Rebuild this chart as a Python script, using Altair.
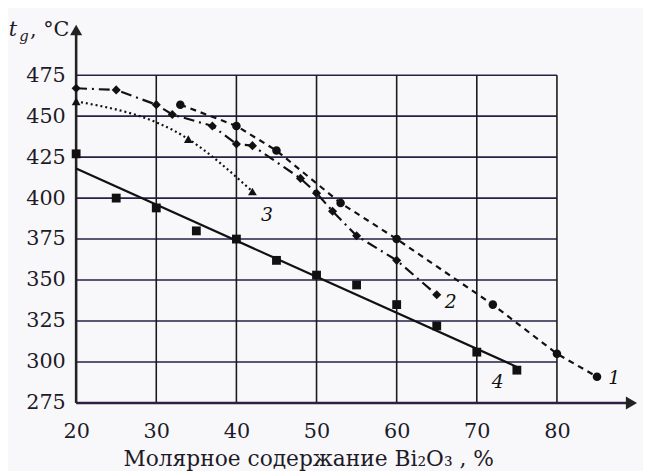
import altair as alt
import pandas as pd

# ---- data ----
# curve 1 (dashed, circles)
s1_x = [33, 40, 45, 53, 60, 72, 80, 85]
s1_y = [457, 444, 429, 397, 375, 335, 305, 291]
# curve 2 (dash-dot, diamonds)
s2_x = [20, 25, 30, 32, 37, 40, 42, 48, 50, 52, 55, 60, 65]
s2_y = [467, 466, 457, 451, 444, 433, 432, 412, 403, 392, 377, 362, 341]
# curve 3 (dotted, triangles)
s3_x = [20, 34, 42]
s3_y = [459, 436, 404]
# curve 4 (squares + straight fitted line)
s4_x = [20, 25, 30, 35, 40, 45, 50, 55, 60, 65, 70, 75]
s4_y = [427, 400, 394, 380, 375, 362, 353, 347, 335, 322, 306, 295]
fit4_x = [20, 75]
fit4_y = [418, 297]

# curve number labels
lab_text = ["1", "2", "3", "4"]
lab_x = [86.4, 66.0, 43.8, 72.6]
lab_y = [290, 336.5, 389.5, 288]
lab_align = ["left", "left", "center", "center"]

x_ticks = [20, 30, 40, 50, 60, 70, 80]
y_ticks = [275, 300, 325, 350, 375, 400, 425, 450, 475]
x_grid = [30, 40, 50, 60, 70, 80]
y_grid = [300, 325, 350, 375, 400, 425, 450, 475]
x_title = "Молярное содержание Bi\u2082O\u2083 , %"

FONT = "DejaVu Serif"
INK = "#1e1a28"

X_SCALE = alt.Scale(domain=[20, 90], nice=False, zero=False)
Y_SCALE = alt.Scale(domain=[275, 507], nice=False, zero=False)
X_AXIS = alt.Axis(values=x_ticks, domain=False, ticks=False, grid=False, labelFlush=False,
                  labelFont=FONT, labelFontSize=21, labelPadding=18, labelColor=INK,
                  title=x_title, titleFont=FONT, titleFontSize=22, titleFontWeight="normal",
                  titleColor=INK, titleX=235, titleY=63, titleBaseline="alphabetic")
Y_AXIS = alt.Axis(values=y_ticks, domain=False, ticks=False, grid=False, labelFlush=False,
                  labelFont=FONT, labelFontSize=21, labelPadding=11, labelColor=INK,
                  labelBaseline="middle", title=None)


def X(f):
    return alt.X(f, type="quantitative", scale=X_SCALE, axis=X_AXIS)


def Y(f):
    return alt.Y(f, type="quantitative", scale=Y_SCALE, axis=Y_AXIS)


hgrid = pd.DataFrame({"y": y_grid, "x0": [20] * len(y_grid), "x1": [80] * len(y_grid)})
vgrid = pd.DataFrame({"x": x_grid, "y0": [275] * len(x_grid), "y1": [475] * len(x_grid)})

h_rules = alt.Chart(hgrid).mark_rule(color="#2a1f45", strokeWidth=1.6).encode(
    x=X("x0"), x2="x1", y=Y("y"))
v_rules = alt.Chart(vgrid).mark_rule(color="#1a1a1a", strokeWidth=1.6).encode(
    x=X("x"), y=Y("y0"), y2="y1")

# axes with arrows
xaxis_df = pd.DataFrame({"x0": [20], "x1": [89], "y": [275]})
yaxis_df = pd.DataFrame({"x": [20], "y0": [275], "y1": [503]})
x_axis_line = alt.Chart(xaxis_df).mark_rule(color="#2a1f45", strokeWidth=2.6).encode(
    x=X("x0"), x2="x1", y=Y("y"))
y_axis_line = alt.Chart(yaxis_df).mark_rule(color="#222", strokeWidth=2.6).encode(
    x=X("x"), y=Y("y0"), y2="y1")
arrow_r = alt.Chart(pd.DataFrame({"x": [89.3], "y": [275]})).mark_point(
    shape="triangle-right", filled=True, size=170, color="#222", opacity=1).encode(
    x=X("x"), y=Y("y"))
arrow_u = alt.Chart(pd.DataFrame({"x": [20], "y": [502.5]})).mark_point(
    shape="triangle-up", filled=True, size=150, color="#222", opacity=1).encode(
    x=X("x"), y=Y("y"))

d1 = pd.DataFrame({"x": s1_x, "y": s1_y})
d2 = pd.DataFrame({"x": s2_x, "y": s2_y})
d3 = pd.DataFrame({"x": s3_x, "y": s3_y})
d4 = pd.DataFrame({"x": s4_x, "y": s4_y})
f4 = pd.DataFrame({"x": fit4_x, "y": fit4_y})

line1 = alt.Chart(d1).mark_line(color="#111", strokeWidth=2.2, strokeDash=[6, 5]).encode(
    x=X("x"), y=Y("y"))
pts1 = alt.Chart(d1).mark_point(shape="circle", filled=True, size=75, color="#111",
                                opacity=1).encode(x=X("x"), y=Y("y"))
line2 = alt.Chart(d2).mark_line(color="#111", strokeWidth=2.2,
                                strokeDash=[11, 5, 2, 5]).encode(x=X("x"), y=Y("y"))
pts2 = alt.Chart(d2).mark_point(shape="diamond", filled=True, size=85, color="#111",
                                opacity=1).encode(x=X("x"), y=Y("y"))
line3 = alt.Chart(d3).mark_line(color="#111", strokeWidth=2.2, strokeDash=[2, 3],
                                interpolate="monotone").encode(x=X("x"), y=Y("y"))
pts3 = alt.Chart(d3).mark_point(shape="triangle-up", filled=True, size=80, color="#111",
                                opacity=1).encode(x=X("x"), y=Y("y"))
line4 = alt.Chart(f4).mark_line(color="#111", strokeWidth=2.2).encode(x=X("x"), y=Y("y"))
pts4 = alt.Chart(d4).mark_point(shape="square", filled=True, size=80, color="#111",
                                opacity=1).encode(x=X("x"), y=Y("y"))

labels = []
for t, lx, ly, al in zip(lab_text, lab_x, lab_y, lab_align):
    labels.append(alt.Chart(pd.DataFrame({"x": [lx], "y": [ly], "t": [t]})).mark_text(
        font=FONT, fontSize=19, fontStyle="italic", align=al, baseline="middle",
        color="#111").encode(x=X("x"), y=Y("y"), text="t:N"))

# y-axis title "t_g, °C"
yt_parts = ["t", "g", ", \u00b0C"]
yt_x = [11.6, 12.9, 14.25]
yt_y = [499.1, 496.0, 499.1]
yt_size = [21, 15, 21]
yt_style = ["italic", "italic", "normal"]
ytitle = []
for t, lx, ly, fs, st in zip(yt_parts, yt_x, yt_y, yt_size, yt_style):
    ytitle.append(alt.Chart(pd.DataFrame({"x": [lx], "y": [ly], "t": [t]})).mark_text(
        font=FONT, fontSize=fs, fontStyle=st, align="left", baseline="alphabetic",
        color=INK).encode(x=X("x"), y=Y("y"), text="t:N"))

chart = alt.layer(
    h_rules, v_rules, x_axis_line, y_axis_line, arrow_r, arrow_u,
    line4, line3, line2, line1, pts4, pts3, pts2, pts1, *labels, *ytitle
).properties(
    width=568, height=385,
    autosize=alt.AutoSizeParams(type="none"),
    padding={"left": 69, "top": 12, "right": 6, "bottom": 66},
    background="#f8f8fa",
).configure_view(stroke=None)

chart.save("out.html", embed_options={"renderer": "svg", "actions": False})
